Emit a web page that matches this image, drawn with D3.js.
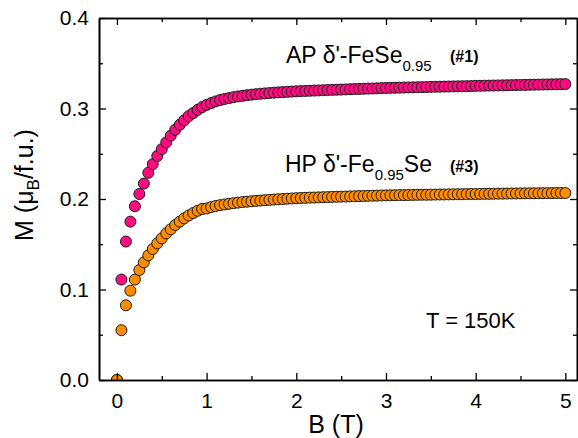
<!DOCTYPE html>
<html>
<head>
<meta charset="utf-8">
<script src="https://cdn.jsdelivr.net/npm/d3@7"></script>
<style>
  html, body { margin: 0; padding: 0; background: #fff; }
  svg { display: block; font-family: "Liberation Sans", Arial, sans-serif; }
</style>
</head>
<body>
<svg id="chart" width="578" height="438"></svg>
<script>
// Magnetic field B (T)
const field = [
  0.00, 0.05, 0.10, 0.15, 0.20, 0.25, 0.30, 0.35, 0.40, 0.45,
  0.50, 0.55, 0.60, 0.65, 0.70, 0.75, 0.80, 0.85, 0.90, 0.95,
  1.00, 1.05, 1.10, 1.15, 1.20, 1.25, 1.30, 1.35, 1.40, 1.45,
  1.50, 1.55, 1.60, 1.65, 1.70, 1.75, 1.80, 1.85, 1.90, 1.95,
  2.00, 2.05, 2.10, 2.15, 2.20, 2.25, 2.30, 2.35, 2.40, 2.45,
  2.50, 2.55, 2.60, 2.65, 2.70, 2.75, 2.80, 2.85, 2.90, 2.95,
  3.00, 3.05, 3.10, 3.15, 3.20, 3.25, 3.30, 3.35, 3.40, 3.45,
  3.50, 3.55, 3.60, 3.65, 3.70, 3.75, 3.80, 3.85, 3.90, 3.95,
  4.00, 4.05, 4.10, 4.15, 4.20, 4.25, 4.30, 4.35, 4.40, 4.45,
  4.50, 4.55, 4.60, 4.65, 4.70, 4.75, 4.80, 4.85, 4.90, 4.95,
  5.00
];

// AP δ'-FeSe0.95 (#1), M in μB/f.u.
const magAP = [
  0.000, 0.111, 0.153, 0.175, 0.192, 0.2055, 0.217, 0.229, 0.2385, 0.2475,
  0.255, 0.2625, 0.270, 0.2765, 0.282, 0.287, 0.2915, 0.295, 0.2985, 0.3015,
  0.304, 0.306, 0.3078, 0.3093, 0.3105, 0.3115, 0.3125, 0.3133, 0.314, 0.3147,
  0.3153, 0.3158, 0.3163, 0.3167, 0.3171, 0.3175, 0.3178, 0.3181, 0.3184, 0.3187,
  0.319, 0.3192, 0.3194, 0.3196, 0.3198, 0.320, 0.3202, 0.3204, 0.3206, 0.3207,
  0.3209, 0.3211, 0.3213, 0.3215, 0.3216, 0.3218, 0.322, 0.3221, 0.3223, 0.3225,
  0.3227, 0.3228, 0.3229, 0.323, 0.3232, 0.3233, 0.3234, 0.3235, 0.3236, 0.3237,
  0.3239, 0.324, 0.3241, 0.3242, 0.3243, 0.3244, 0.3245, 0.3246, 0.3247, 0.3248,
  0.325, 0.3251, 0.3252, 0.3253, 0.3254, 0.3255, 0.3256, 0.3257, 0.3258, 0.3259,
  0.326, 0.3261, 0.3262, 0.3263, 0.3264, 0.3265, 0.3266, 0.3267, 0.3268, 0.3269,
  0.327
];

// HP δ'-Fe0.95Se (#3), M in μB/f.u.
const magHP = [
  0.000, 0.055, 0.0825, 0.0987, 0.111, 0.1215, 0.130, 0.1377, 0.1447, 0.151,
  0.1565, 0.162, 0.1665, 0.1713, 0.175, 0.1786, 0.1818, 0.1845, 0.187, 0.189,
  0.1895, 0.191, 0.1922, 0.1932, 0.194, 0.1947, 0.1954, 0.196, 0.1966, 0.197,
  0.1975, 0.1979, 0.1983, 0.1987, 0.199, 0.1994, 0.1997, 0.200, 0.2003, 0.2006,
  0.2009, 0.2011, 0.2013, 0.2015, 0.2016, 0.2018, 0.202, 0.2021, 0.2023, 0.2024,
  0.2026, 0.2027, 0.2029, 0.203, 0.2032, 0.2033, 0.2035, 0.2036, 0.2037, 0.2039,
  0.204, 0.2041, 0.2042, 0.2043, 0.2043, 0.2044, 0.2045, 0.2046, 0.2047, 0.2047,
  0.2048, 0.2049, 0.205, 0.205, 0.2051, 0.2052, 0.2053, 0.2053, 0.2054, 0.2055,
  0.2055, 0.2056, 0.2057, 0.2057, 0.2058, 0.2059, 0.2059, 0.206, 0.2061, 0.2061,
  0.2062, 0.2062, 0.2063, 0.2063, 0.2064, 0.2064, 0.2065, 0.2065, 0.2066, 0.2066,
  0.2066
];

const xTicks = [0, 1, 2, 3, 4, 5];
const xMinorTicks = [0.5, 1.5, 2.5, 3.5, 4.5];
const yTicks = [0.0, 0.1, 0.2, 0.3, 0.4];
const yMinorTicks = [0.05, 0.15, 0.25, 0.35];

const svg = d3.select("#chart");
const plotLeft = 99, plotRight = 577, plotTop = 18, plotBottom = 380;

const x = d3.scaleLinear().domain([-0.2, 5.13]).range([plotLeft, plotRight]);
const y = d3.scaleLinear().domain([0, 0.4]).range([plotBottom, plotTop]);

svg.append("defs").append("clipPath").attr("id", "plotClip")
  .append("rect").attr("x", plotLeft).attr("y", plotTop)
  .attr("width", plotRight - plotLeft).attr("height", plotBottom - plotTop);

// data markers
const plot = svg.append("g").attr("clip-path", "url(#plotClip)");
function drawSeries(values, color) {
  plot.append("g").selectAll("circle")
    .data(field.map((b, i) => [b, values[i]]))
    .join("circle")
    .attr("cx", d => x(d[0]))
    .attr("cy", d => y(d[1]))
    .attr("r", 5.5)
    .attr("fill", color)
    .attr("stroke", "#1a1a1a")
    .attr("stroke-width", 1);
}
drawSeries(magAP, "#ff0a80");
drawSeries(magHP, "#ff8c00");

// axes: ticks point inward on all four sides
const tickFont = 21;
function styleAxis(g) {
  g.select(".domain").attr("stroke", "#000").attr("stroke-width", 1.6);
  g.selectAll(".tick line").attr("stroke", "#000").attr("stroke-width", 1.3);
  g.selectAll("text").attr("fill", "#000").attr("font-size", tickFont)
    .attr("font-family", "'Liberation Sans', Arial, sans-serif");
}

svg.append("g").attr("transform", `translate(0,${plotBottom})`)
  .call(d3.axisBottom(x).tickValues(xTicks).tickFormat(d3.format("d"))
    .tickSizeInner(-7).tickSizeOuter(0).tickPadding(13))
  .call(styleAxis);
svg.append("g").attr("transform", `translate(0,${plotBottom})`)
  .call(d3.axisBottom(x).tickValues(xMinorTicks).tickFormat("")
    .tickSizeInner(-4).tickSizeOuter(0))
  .call(styleAxis);

svg.append("g").attr("transform", `translate(0,${plotTop})`)
  .call(d3.axisTop(x).tickValues(xTicks).tickFormat("")
    .tickSizeInner(-7).tickSizeOuter(0))
  .call(styleAxis);
svg.append("g").attr("transform", `translate(0,${plotTop})`)
  .call(d3.axisTop(x).tickValues(xMinorTicks).tickFormat("")
    .tickSizeInner(-4).tickSizeOuter(0))
  .call(styleAxis);

svg.append("g").attr("transform", `translate(${plotLeft},0)`)
  .call(d3.axisLeft(y).tickValues(yTicks).tickFormat(d3.format(".1f"))
    .tickSizeInner(-7).tickSizeOuter(0).tickPadding(10))
  .call(styleAxis);
svg.append("g").attr("transform", `translate(${plotLeft},0)`)
  .call(d3.axisLeft(y).tickValues(yMinorTicks).tickFormat("")
    .tickSizeInner(-4).tickSizeOuter(0))
  .call(styleAxis);

svg.append("g").attr("transform", `translate(${plotRight},0)`)
  .call(d3.axisRight(y).tickValues(yTicks).tickFormat("")
    .tickSizeInner(-7).tickSizeOuter(0))
  .call(styleAxis);
svg.append("g").attr("transform", `translate(${plotRight},0)`)
  .call(d3.axisRight(y).tickValues(yMinorTicks).tickFormat("")
    .tickSizeInner(-4).tickSizeOuter(0))
  .call(styleAxis);

// axis titles
svg.append("text")
  .attr("x", 336).attr("y", 433)
  .attr("text-anchor", "middle").attr("font-size", 25)
  .text("B (T)");

const yTitle = svg.append("text")
  .attr("transform", "translate(33,185) rotate(-90)")
  .attr("text-anchor", "middle").attr("font-size", 25);
yTitle.append("tspan").text("M (μ");
yTitle.append("tspan").attr("font-size", 17).attr("dy", 6).text("B");
yTitle.append("tspan").attr("dy", -6).text("/f.u.)");

// sample labels
const apLabel = svg.append("text").attr("x", 286).attr("y", 63).attr("font-size", 23);
apLabel.append("tspan").text("AP δ'-FeSe");
apLabel.append("tspan").attr("font-size", 15).attr("dy", 8).text("0.95");
svg.append("text").attr("x", 450).attr("y", 62)
  .attr("font-size", 16).attr("font-weight", "bold").text("(#1)");

const hpLabel = svg.append("text").attr("x", 285).attr("y", 172).attr("font-size", 23);
hpLabel.append("tspan").text("HP δ'-Fe");
hpLabel.append("tspan").attr("font-size", 15).attr("dy", 8).text("0.95");
hpLabel.append("tspan").attr("dy", -8).text("Se");
svg.append("text").attr("x", 450).attr("y", 172)
  .attr("font-size", 16).attr("font-weight", "bold").text("(#3)");

svg.append("text").attr("x", 426).attr("y", 328)
  .attr("font-size", 22).text("T = 150K");
</script>
</body>
</html>
